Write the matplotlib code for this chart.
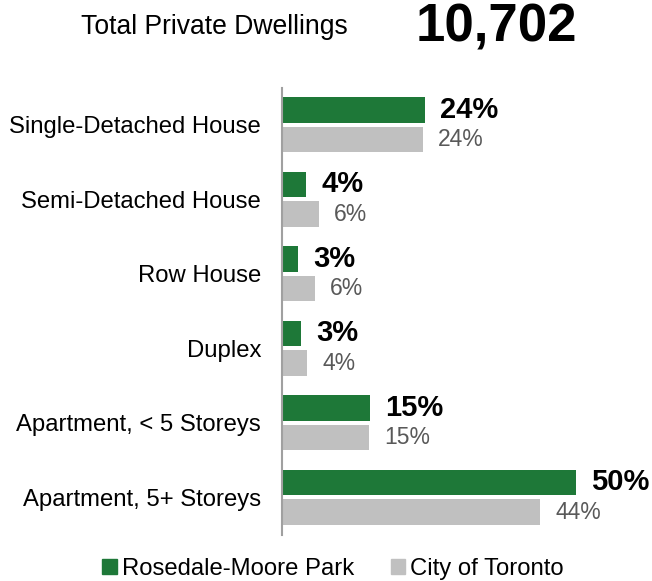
import matplotlib
matplotlib.use("Agg")
import matplotlib.pyplot as plt
from matplotlib.patches import Patch

plt.rcParams['font.family'] = ['Liberation Sans', 'DejaVu Sans']

categories = ["Single-Detached House", "Semi-Detached House", "Row House",
              "Duplex", "Apartment, < 5 Storeys", "Apartment, 5+ Storeys"]
local_vals = [24.2, 4.1, 2.7, 3.2, 14.9, 49.8]
city_vals = [23.9, 6.2, 5.6, 4.2, 14.8, 43.8]
local_labels = ["24%", "4%", "3%", "3%", "15%", "50%"]
city_labels = ["24%", "6%", "6%", "4%", "15%", "44%"]
series_names = ["Rosedale-Moore Park", "City of Toronto"]
title_text = "Total Private Dwellings"
total_text = "10,702"

GREEN = "#1e7838"
GRAY = "#c0c0c0"

fig = plt.figure(figsize=(6.52, 5.81), dpi=100)
ax = fig.add_axes([282/652, 1-534.5/581, 370/652, 447/581])

n = len(categories)
pos = list(range(n))
off = 0.198
h = 0.342
ax.barh([p - off for p in pos], local_vals, height=h, color=GREEN)
ax.barh([p + off for p in pos], city_vals, height=h, color=GRAY)

for p, v, lab in zip(pos, local_vals, local_labels):
    ax.annotate(lab, (v, p - off), xytext=(11, 0), textcoords="offset points",
                ha="left", va="center", fontsize=21, fontweight="bold", color="black")
for p, v, lab in zip(pos, city_vals, city_labels):
    ax.annotate(lab, (v, p + off), xytext=(11, 0), textcoords="offset points",
                ha="left", va="center", fontsize=16.5, color="#595959")

ax.set_xlim(0, 370/5.9)
ax.set_ylim(n - 0.5, -0.5)
ax.set_yticks(pos)
ax.set_yticklabels(categories, fontsize=17.2)
ax.tick_params(axis="y", length=0, pad=15)
ax.set_xticks([])
for s in ["top", "right", "bottom"]:
    ax.spines[s].set_visible(False)
ax.spines["left"].set_color("#a0a0a0")
ax.spines["left"].set_linewidth(1.5)

fig.text(214/652, 1-27/581, title_text, ha="center", va="center", fontsize=19.1)
fig.text(496/652, 1-28/581, total_text, ha="center", va="center", fontsize=38, fontweight="bold")

handles = [Patch(color=GREEN, label=series_names[0]), Patch(color=GRAY, label=series_names[1])]
fig.legend(handles=handles, loc="center", bbox_to_anchor=(333/652, 1-569/581), ncol=2,
           frameon=False, fontsize=17.2, handlelength=0.6, handleheight=0.6,
           handletextpad=0.2, columnspacing=1.55, borderaxespad=0, borderpad=0)

fig.savefig("out.png", dpi=100)
